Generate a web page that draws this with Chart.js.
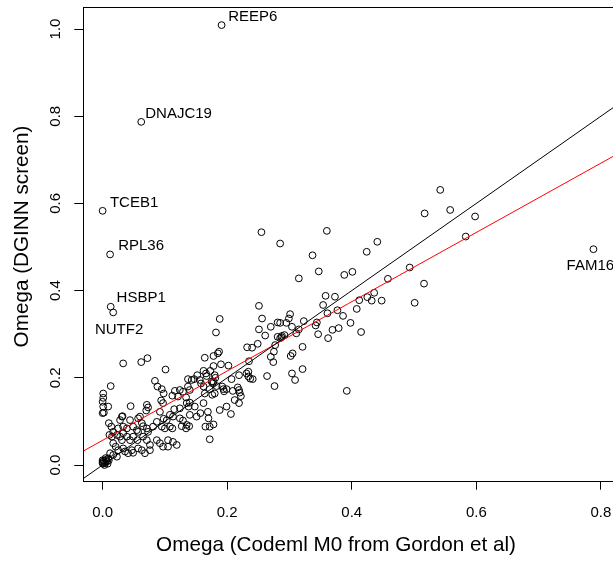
<!DOCTYPE html>
<html>
<head>
<meta charset="utf-8">
<script src="https://cdn.jsdelivr.net/npm/chart.js@4.4.1/dist/chart.umd.min.js"></script>
<style>
  html, body { margin: 0; padding: 0; background: #fff; overflow: hidden; }
  #wrap { width: 616px; height: 563px; }
</style>
</head>
<body>
<div id="wrap"><canvas id="omega" width="616" height="563"></canvas></div>
<script>
const FONT = "'Liberation Sans', Arial, Helvetica, sans-serif";
Chart.defaults.font.family = FONT;
Chart.defaults.color = '#000';

// per-gene omega: Codeml M0 (Gordon et al) vs DGINN screen
const omegaM0 = [
  0.542, 0.517, 0.558, 0.598, 0.583, 0.360, 0.285, 0.441, 0.424, 0.337,
  0.347, 0.315, 0.388, 0.401, 0.493, 0.458, 0.516, 0.501, 0.358, 0.373,
  0.354, 0.412, 0.425, 0.436, 0.432, 0.448, 0.408, 0.377, 0.361, 0.386,
  0.398, 0.415, 0.379, 0.369, 0.362, 0.346, 0.342, 0.344, 0.323, 0.311,
  0.301, 0.299, 0.295, 0.285, 0.304, 0.292, 0.287, 0.321, 0.305, 0.302,
  0.304, 0.309, 0.321, 0.392, 0.255, 0.251, 0.188, 0.256, 0.182, 0.270,
  0.281, 0.315, 0.251, 0.261, 0.281, 0.288, 0.285, 0.277, 0.275, 0.270,
  0.274, 0.232, 0.240, 0.249, 0.235, 0.164, 0.178, 0.185, 0.187, 0.202,
  0.190, 0.178, 0.166, 0.162, 0.156, 0.181, 0.178, 0.207, 0.219, 0.234,
  0.234, 0.237, 0.241, 0.264, 0.276, 0.219, 0.222, 0.199, 0.192, 0.195,
  0.177, 0.180, 0.164, 0.162, 0.158, 0.172, 0.176, 0.033, 0.062, 0.072,
  0.101, 0.231, 0.147, 0.143, 0.137, 0.137, 0.140, 0.152, 0.167, 0.173,
  0.175, 0.180, 0.183, 0.194, 0.209, 0.217, 0.220, 0.219, 0.206, 0.178,
  0.165, 0.172, 0.188, 0.199, 0.212, 0.013, 0.001, 0.001, 0.000, 0.001,
  0.002, 0.000, 0.009, 0.045, 0.031, 0.032, 0.070, 0.084, 0.088, 0.095,
  0.098, 0.094, 0.097, 0.071, 0.073, 0.116, 0.124, 0.129, 0.112, 0.121,
  0.134, 0.135, 0.140, 0.138, 0.140, 0.148, 0.151, 0.162, 0.157, 0.169,
  0.170, 0.172, 0.124, 0.115, 0.092, 0.108, 0.113, 0.098, 0.103, 0.124,
  0.129, 0.135, 0.139, 0.127, 0.134, 0.108, 0.112, 0.095, 0.100, 0.081,
  0.087, 0.071, 0.073, 0.063, 0.065, 0.055, 0.057, 0.049, 0.044, 0.057,
  0.060, 0.033, 0.039, 0.025, 0.028, 0.010, 0.014, 0.017, 0.011, 0.015,
  0.023, 0.028, 0.031, 0.033, 0.039, 0.044, 0.049, 0.056, 0.065, 0.071,
  0.076, 0.087, 0.092, 0.097, 0.105, 0.113, 0.105, 0.119, 0.017, 0.021,
  0.025, 0.033, 0.036, 0.041, 0.047, 0.049, 0.057, 0.063, 0.068, 0.076,
  0.017, 0.023, 0.012, 0.009, 0.002, 0.004, 0.006, 0.001, 0.003, 0.007,
  0.005, 0.000, 0.008, 0.010, 0.000, 0.000,
  0.191, 0.062, 0.000, 0.012, 0.013, 0.017, 0.788,
];
const omegaDginn = [
  0.631, 0.577, 0.585, 0.570, 0.524, 0.537, 0.508, 0.512, 0.489, 0.481,
  0.444, 0.428, 0.436, 0.443, 0.453, 0.427, 0.416, 0.372, 0.388, 0.386,
  0.367, 0.378, 0.385, 0.395, 0.377, 0.377, 0.358, 0.355, 0.348, 0.342,
  0.326, 0.305, 0.314, 0.310, 0.291, 0.300, 0.320, 0.327, 0.330, 0.302,
  0.346, 0.336, 0.326, 0.326, 0.317, 0.298, 0.293, 0.271, 0.256, 0.250,
  0.210, 0.195, 0.220, 0.170, 0.534, 0.365, 0.335, 0.336, 0.304, 0.317,
  0.327, 0.311, 0.311, 0.297, 0.294, 0.296, 0.291, 0.275, 0.260, 0.248,
  0.236, 0.270, 0.269, 0.278, 0.238, 0.246, 0.250, 0.256, 0.260, 0.228,
  0.231, 0.227, 0.210, 0.216, 0.195, 0.200, 0.191, 0.197, 0.206, 0.214,
  0.203, 0.198, 0.197, 0.204, 0.181, 0.172, 0.158, 0.174, 0.180, 0.169,
  0.188, 0.164, 0.164, 0.180, 0.187, 0.174, 0.161, 0.233, 0.236, 0.245,
  0.219, 0.210, 0.197, 0.195, 0.197, 0.180, 0.172, 0.206, 0.204, 0.216,
  0.191, 0.206, 0.181, 0.174, 0.170, 0.178, 0.166, 0.142, 0.117, 0.093,
  0.088, 0.059, 0.126, 0.134, 0.149, 0.181, 0.164, 0.154, 0.145, 0.134,
  0.120, 0.119, 0.134, 0.135, 0.111, 0.112, 0.125, 0.193, 0.180, 0.174,
  0.164, 0.148, 0.142, 0.138, 0.132, 0.170, 0.172, 0.168, 0.159, 0.157,
  0.155, 0.142, 0.143, 0.134, 0.115, 0.134, 0.111, 0.142, 0.119, 0.122,
  0.107, 0.088, 0.130, 0.128, 0.122, 0.115, 0.111, 0.106, 0.103, 0.107,
  0.102, 0.092, 0.089, 0.089, 0.084, 0.088, 0.084, 0.088, 0.084, 0.088,
  0.099, 0.084, 0.076, 0.096, 0.089, 0.080, 0.076, 0.088, 0.103, 0.107,
  0.111, 0.088, 0.084, 0.084, 0.103, 0.096, 0.088, 0.076, 0.069, 0.065,
  0.069, 0.065, 0.057, 0.073, 0.065, 0.057, 0.065, 0.057, 0.065, 0.057,
  0.046, 0.057, 0.050, 0.042, 0.057, 0.053, 0.042, 0.046, 0.050, 0.042,
  0.034, 0.038, 0.031, 0.027, 0.034, 0.028, 0.038, 0.034, 0.027, 0.034,
  0.023, 0.019, 0.027, 0.015, 0.010, 0.005, 0.012, 0.003, 0.000, 0.008,
  0.016, 0.007, 0.003, 0.011, 0.011, 0.004,
  1.009, 0.787, 0.583, 0.483, 0.363, 0.350, 0.495,
];

// gene names and where their text sits (left edge, vertical middle)
const geneNames = ['REEP6', 'DNAJC19', 'TCEB1', 'RPL36', 'HSBP1', 'NUTF2', 'FAM160B1'];
const geneLabelX = [0.2016, 0.0684, 0.0117, 0.0250, 0.0225, -0.0124, 0.7449];
const geneLabelY = [1.0275, 0.805, 0.601, 0.503, 0.384, 0.309, 0.456];

// y = x reference and the fitted regression line (end points)
const identityLine = [{ x: -0.05, y: -0.05 }, { x: 0.85, y: 0.85 }];
const fitLine = [{ x: -0.031, y: 0.032 }, { x: 0.821, y: 0.709 }];

const xTicks = [0, 0.2, 0.4, 0.6, 0.8];
const yTicks = [0, 0.2, 0.4, 0.6, 0.8, 1.0];

const xTitle = 'Omega (Codeml M0 from Gordon et al)';
const yTitle = 'Omega (DGINN screen)';

const points = omegaM0.map((x, i) => ({ x, y: omegaDginn[i] }));

// R-style closed box round the plot region
const boxPlugin = {
  id: 'box',
  afterDraw(chart) {
    const { ctx, chartArea: a } = chart;
    ctx.save();
    ctx.strokeStyle = '#000';
    ctx.lineWidth = 1;
    ctx.strokeRect(Math.round(a.left) + 0.5, Math.round(a.top) + 0.5,
      Math.round(a.right - a.left), Math.round(a.bottom - a.top));
    ctx.restore();
  },
};

// axis titles, placed like R's mtext on lines 3 / 2.5
const axisTitles = {
  id: 'axisTitles',
  afterDraw(chart) {
    const { ctx, chartArea: a } = chart;
    ctx.save();
    ctx.fillStyle = '#000';
    ctx.font = `20.7px ${FONT}`;
    ctx.textAlign = 'center';
    ctx.textBaseline = 'middle';
    ctx.fillText(xTitle, 336, a.bottom + 64);
    ctx.translate(22.5, 236.5);
    ctx.rotate(-Math.PI / 2);
    ctx.fillText(yTitle, 0, 0);
    ctx.restore();
  },
};

const geneLabels = {
  id: 'geneLabels',
  afterDatasetsDraw(chart) {
    const { ctx, scales: { x, y } } = chart;
    ctx.save();
    ctx.fillStyle = '#000';
    ctx.font = `15px ${FONT}`;
    ctx.textAlign = 'left';
    ctx.textBaseline = 'middle';
    geneNames.forEach((name, i) => {
      ctx.fillText(name, x.getPixelForValue(geneLabelX[i]), y.getPixelForValue(geneLabelY[i]));
    });
    ctx.restore();
  },
};

const fixedTicks = (values) => (scale) => {
  scale.ticks = values.map((value) => ({ value }));
};

new Chart(document.getElementById('omega'), {
  data: {
    datasets: [
      {
        type: 'line',
        data: identityLine,
        borderColor: '#000',
        borderWidth: 1,
        pointRadius: 0,
      },
      {
        type: 'line',
        data: fitLine,
        borderColor: '#ff0000',
        borderWidth: 1,
        pointRadius: 0,
      },
      {
        type: 'scatter',
        data: points,
        pointStyle: 'circle',
        pointRadius: 3.4,
        borderWidth: 1,
        borderColor: '#000',
        backgroundColor: 'rgba(0,0,0,0)',
      },
    ],
  },
  plugins: [boxPlugin, geneLabels, axisTitles],
  options: {
    responsive: false,
    animation: false,
    devicePixelRatio: 1,
    layout: { autoPadding: false, padding: { left: 0, top: 7.3, right: 2, bottom: 0 } },
    plugins: { legend: { display: false }, tooltip: { enabled: false } },
    scales: {
      x: {
        type: 'linear',
        position: 'bottom',
        min: -0.031,
        max: 0.821,
        afterBuildTicks: fixedTicks(xTicks),
        afterFit: (s) => { s.height = 81.3; s.paddingLeft = 0; s.paddingRight = 0; },
        border: { display: false },
        grid: {
          drawOnChartArea: false,
          drawTicks: true,
          tickLength: 8,
          tickColor: '#000',
          lineWidth: 1,
        },
        ticks: {
          autoSkip: false,
          maxRotation: 0,
          padding: 14,
          font: { size: 15 },
          callback: (v) => Number(v).toFixed(1),
        },
      },
      y: {
        type: 'linear',
        position: 'left',
        min: -0.0383,
        max: 1.0498,
        afterBuildTicks: fixedTicks(yTicks),
        afterFit: (s) => { s.width = 83.3; s.paddingTop = 0; s.paddingBottom = 0; },
        border: { display: false },
        grid: {
          drawOnChartArea: false,
          drawTicks: true,
          tickLength: 9,
          tickColor: '#000',
          lineWidth: 1,
        },
        ticks: {
          autoSkip: false,
          minRotation: 90,
          maxRotation: 90,
          crossAlign: 'center',
          padding: 8,
          font: { size: 15 },
          callback: (v) => Number(v).toFixed(1),
        },
      },
    },
  },
});
</script>
</body>
</html>
